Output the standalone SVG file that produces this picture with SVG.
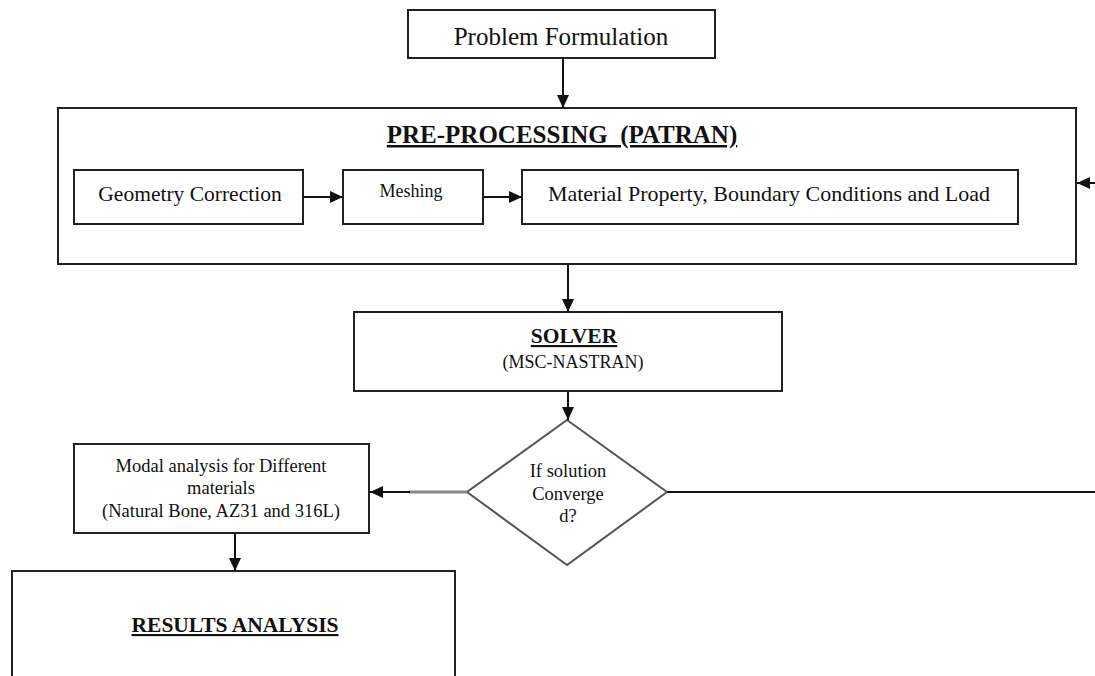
<svg xmlns="http://www.w3.org/2000/svg" width="1095" height="676" viewBox="0 0 1095 676">
<style>
.box{fill:#fff;stroke:#222;stroke-width:2}
.t{font-family:"Liberation Serif","Times New Roman",serif;fill:#111;text-anchor:middle}
.b{font-weight:bold;text-decoration:underline}
.ln{stroke:#111;stroke-width:2;fill:none}
</style>
<defs>
<marker id="ah" markerUnits="userSpaceOnUse" markerWidth="14" markerHeight="12" refX="13" refY="6" orient="auto">
<path d="M0,0 L13,6 L0,12 z" fill="#111"/>
</marker>
</defs>
<rect width="1095" height="676" fill="#fff"/>
<g id="problem">
<rect class="box" x="408" y="10" width="307" height="48"/>
<text class="t" x="561" y="45" font-size="25">Problem Formulation</text>
</g>
<g id="preprocessing">
<rect class="box" x="58" y="108" width="1018" height="156"/>
<text class="t b" x="562" y="143" font-size="25" style="white-space:pre">PRE-PROCESSING  (PATRAN)</text>
</g>
<g id="geometry">
<rect class="box" x="74" y="170" width="229" height="54"/>
<text class="t" x="190" y="201" font-size="21.5">Geometry Correction</text>
</g>
<g id="meshing">
<rect class="box" x="343" y="170" width="140" height="54"/>
<text class="t" x="411" y="197" font-size="18">Meshing</text>
</g>
<g id="material">
<rect class="box" x="522" y="170" width="496" height="54"/>
<text class="t" x="769" y="201" font-size="22">Material Property, Boundary Conditions and Load</text>
</g>
<g id="solver">
<rect class="box" x="354" y="312" width="428" height="79"/>
<text class="t b" x="574" y="343" font-size="21.5">SOLVER</text>
<text class="t" x="573" y="368" font-size="18">(MSC-NASTRAN)</text>
</g>
<g id="decision">
<polygon points="567,420 667,492 567,565 467,492" fill="#fff" stroke="#555" stroke-width="2"/>
<text class="t" x="568" y="477" font-size="18.5">If solution</text>
<text class="t" x="568" y="500" font-size="18.5">Converge</text>
<text class="t" x="568" y="522" font-size="18.5">d?</text>
</g>
<g id="modal">
<rect class="box" x="74" y="444" width="295" height="89"/>
<text class="t" x="221" y="472" font-size="18.5">Modal analysis for Different</text>
<text class="t" x="221" y="494" font-size="18.5">materials</text>
<text class="t" x="221" y="517" font-size="18.5">(Natural Bone, AZ31 and 316L)</text>
</g>
<g id="results">
<rect class="box" x="12" y="571" width="443" height="120"/>
<text class="t b" x="235" y="632" font-size="21.5">RESULTS ANALYSIS</text>
</g>
<g id="connectors">
<line class="ln" x1="563" y1="58" x2="563" y2="108" marker-end="url(#ah)"/>
<line class="ln" x1="303" y1="197" x2="343" y2="197" marker-end="url(#ah)"/>
<line class="ln" x1="483" y1="197" x2="522" y2="197" marker-end="url(#ah)"/>
<line class="ln" x1="1095" y1="183" x2="1077" y2="183" marker-end="url(#ah)"/>
<line class="ln" x1="568" y1="264" x2="568" y2="312" marker-end="url(#ah)"/>
<line class="ln" x1="568" y1="391" x2="568" y2="420" marker-end="url(#ah)"/>
<line x1="467" y1="492" x2="409" y2="492" stroke="#8a8a8a" stroke-width="3"/>
<line class="ln" x1="410" y1="492" x2="370" y2="492" marker-end="url(#ah)"/>
<line class="ln" x1="667" y1="492" x2="1095" y2="492"/>
<line class="ln" x1="235" y1="533" x2="235" y2="571" marker-end="url(#ah)"/>
</g>
</svg>
